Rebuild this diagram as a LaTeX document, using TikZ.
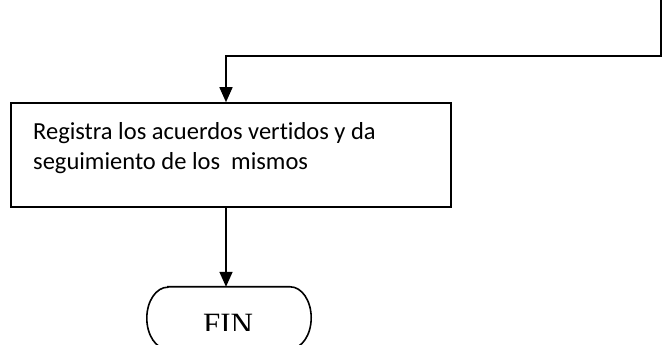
\documentclass[tikz,border=0pt]{standalone}
\usepackage{fontspec}
\setmainfont{Carlito}[Ligatures={NoCommon}]
\newfontfamily\serifx{Liberation Serif}
\usetikzlibrary{arrows.meta}
\tikzset{
  conn/.style={line width=1.6pt, line cap=butt},
  arr/.style={conn, -{Triangle[width=13pt,length=15pt]}},
  procbox/.style={draw, line width=1.6pt, minimum width=440pt, minimum height=104pt, inner sep=0pt},
  boxtext/.style={anchor=base west, inner sep=0pt, font=\fontsize{24.5}{28}\selectfont},
  endshape/.style={minimum width=164pt, minimum height=62pt, inner sep=0pt},
  fintext/.style={anchor=base, inner sep=0pt, font=\serifx\fontsize{31}{34}\selectfont}
}
\begin{document}
\begin{tikzpicture}[x=1pt,y=1pt]
\clip (0,0) rectangle (662,345);
\useasboundingbox (0,0) rectangle (662,345);
% process box
\node[procbox] (box) at (231,190) {};
\node[boxtext] (line1) at (33,205) {Registra los acuerdos vertidos y da};
\node[boxtext] (line2) at (33,175) {seguimiento de los\ \ mismos};
% terminal
\node[endshape] (fin) at (229,27) {};
\draw[line width=1.6pt] ([xshift=21pt]fin.north west) -- ([xshift=-21pt]fin.north east)
  arc[start angle=90, end angle=-90, x radius=21pt, y radius=31pt]
  -- ([xshift=21pt]fin.south west)
  arc[start angle=270, end angle=90, x radius=21pt, y radius=31pt] -- cycle;
\begin{scope}
\clip (0,14) rectangle (662,345);
\node[fintext] (fintxt) at (228,10) {FIN};
\end{scope}
% connectors
\coordinate (s) at (661,345);
\coordinate (c1) at (661,289);
\coordinate (c2) at (226,289);
\draw[arr] (s) -- (c1) -- (c2) -- (c2 |- box.north);
\draw[arr] (c2 |- box.south) -- (c2 |- fin.north);
\end{tikzpicture}
\end{document}
